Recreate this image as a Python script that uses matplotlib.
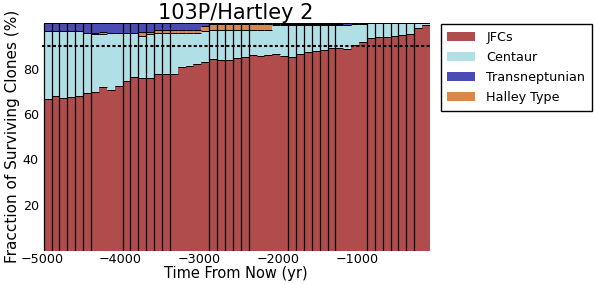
import matplotlib
matplotlib.use("Agg")
import matplotlib.pyplot as plt
import numpy as np

# ---- data ----
times = [-4925, -4825, -4725, -4625, -4525, -4425, -4325, -4225, -4125, -4025,
         -3925, -3825, -3725, -3625, -3525, -3425, -3325, -3225, -3125, -3025,
         -2925, -2825, -2725, -2625, -2525, -2425, -2325, -2225, -2125, -2025,
         -1925, -1825, -1725, -1625, -1525, -1425, -1325, -1225, -1125, -1025,
         -925, -825, -725, -625, -525, -425, -325, -225, -125]
jfc = [66.6, 67.9, 66.9, 67.5, 67.9, 69.1, 69.5, 71.7, 70.5, 72.2,
       74.7, 76.4, 75.7, 75.7, 77.5, 77.5, 77.6, 80.5, 81.1, 82.0,
       83.0, 84.0, 83.7, 83.6, 84.4, 84.9, 85.9, 85.5, 85.9, 86.2,
       85.5, 85.2, 86.5, 87.2, 87.6, 88.2, 88.9, 89.0, 88.7, 90.4,
       91.8, 93.6, 93.7, 93.7, 94.5, 94.8, 95.0, 97.6, 99.3]
centaur = [29.9, 28.6, 29.6, 29.0, 28.6, 26.4, 25.7, 23.5, 25.0, 23.3,
           20.8, 19.1, 18.8, 19.3, 18.0, 18.0, 17.9, 15.0, 14.4, 13.5,
           13.5, 13.0, 13.3, 13.4, 12.6, 12.1, 11.1, 11.5, 11.1, 12.9,
           13.6, 13.9, 12.6, 11.9, 11.5, 10.9, 10.2, 10.1, 10.5, 9.0,
           7.6, 6.4, 6.3, 6.3, 5.5, 5.2, 5.0, 2.4, 0.7]
halley = [0, 0, 0, 0, 0, 0, 0.3, 0.8, 0, 0,
          0, 0, 1.5, 1.0, 1.5, 1.5, 1.5, 1.5, 1.5, 1.5,
          2.0, 2.5, 2.5, 2.5, 2.5, 2.5, 2.5, 2.5, 2.5, 0.6,
          0.6, 0.6, 0.6, 0.6, 0.6, 0.6, 0.6, 0.6, 0, 0.3,
          0.3, 0, 0, 0, 0, 0, 0, 0, 0]
tno = [3.5, 3.5, 3.5, 3.5, 3.5, 4.5, 4.5, 4.0, 4.5, 4.5,
       4.5, 4.5, 4.0, 4.0, 3.0, 3.0, 3.0, 3.0, 3.0, 3.0,
       1.5, 0.5, 0.5, 0.5, 0.5, 0.5, 0.5, 0.5, 0.5, 0.3,
       0.3, 0.3, 0.3, 0.3, 0.3, 0.3, 0.3, 0.3, 0.8, 0.3,
       0.3, 0, 0, 0, 0, 0, 0, 0, 0]
xticks = [-5000, -4000, -3000, -2000, -1000]
yticks = [20, 40, 60, 80]
threshold = 90

# ---- style ----
bar_w = 100
c_jfc = '#B04C4C'
c_cen = '#B0E0E6'
c_tno = '#4B4BB4'
c_hal = '#D8884A'
# bar edges that survive in the reference rendering
edge_idx = list(range(0, 7)) + list(range(10, 17)) + list(range(21, 27)) + \
           list(range(31, 38)) + list(range(41, 48))

fig = plt.figure(figsize=(6.0, 2.84), dpi=100)
ax = fig.add_axes([41.7 / 600, 1 - 250.5 / 284, 388.3 / 600, 227.5 / 284])

t = np.array(times, dtype=float)
j = np.array(jfc)
c = np.array(centaur)
h = np.array(halley)
n = np.array(tno)

b1 = ax.bar(t, j, width=bar_w, color=c_jfc, linewidth=0, label='JFCs')
b2 = ax.bar(t, c, bottom=j, width=bar_w, color=c_cen, linewidth=0, label='Centaur')
b4 = ax.bar(t, h, bottom=j + c, width=bar_w, color=c_hal, linewidth=0)
b3 = ax.bar(t, n, bottom=j + c + h, width=bar_w, color=c_tno, linewidth=0)

lefts = t - bar_w / 2
rights = t + bar_w / 2
for level in (j, j + c, j + c + h, j + c + h + n):
    ax.hlines(level, lefts, rights, colors='k', linewidth=0.7, zorder=3)
ax.vlines(lefts[edge_idx], 0, (j + c + h + n)[edge_idx], colors='k', linewidth=0.9, zorder=3)

ax.axhline(threshold, color='k', linewidth=1.5, linestyle=(0, (1.5, 1.1)), zorder=4)

ax.set_xlim(lefts[0], rights[-1])
ax.set_ylim(0, 100)
ax.set_xticks(xticks)
ax.set_yticks(yticks)
ax.tick_params(length=0, labelsize=9.2, pad=2)
for s in ax.spines.values():
    s.set_visible(False)

ax.set_title('103P/Hartley 2', fontsize=15, pad=1)
ax.set_xlabel('Time From Now (yr)', fontsize=10.5, labelpad=0)
ax.set_ylabel('Fracction of Surviving Clones (%)', fontsize=11, labelpad=2)

leg = ax.legend([b1, b2, b3, b4], ['JFCs', 'Centaur', 'Transneptunian', 'Halley Type'],
                loc='upper left', bbox_to_anchor=(1.028, 0.995), borderaxespad=0,
                fontsize=9.2, fancybox=False, framealpha=1, edgecolor='k',
                handlelength=2.2, handletextpad=0.85, labelspacing=0.57,
                borderpad=0.5)
leg.get_frame().set_linewidth(1.0)

fig.savefig('out.png', dpi=100)
